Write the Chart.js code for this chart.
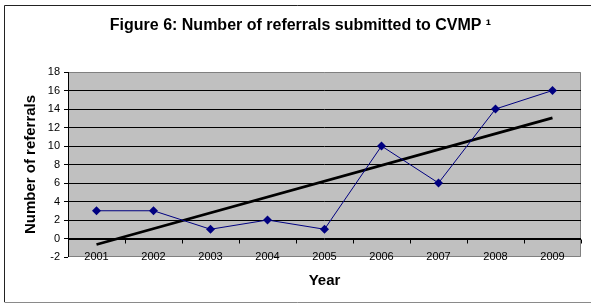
<!DOCTYPE html>
<html>
<head>
<meta charset="utf-8">
<script src="https://cdn.jsdelivr.net/npm/chart.js@4/dist/chart.umd.min.js"></script>
<style>
  html, body { margin: 0; padding: 0; background: #fff; }
  #wrap { width: 591px; height: 305px; }
</style>
</head>
<body>
<div id="wrap"><canvas id="c" width="591" height="305"></canvas></div>
<script>
// ---- data ----
const years = ["2001", "2002", "2003", "2004", "2005", "2006", "2007", "2008", "2009"];
const referrals = [3, 3, 1, 2, 1, 10, 6, 14, 16];
const trendLine = [-0.65, null, null, null, null, null, null, null, 13.05];
const yTicks = [-2, 0, 2, 4, 6, 8, 10, 12, 14, 16, 18];
const titleText = "Figure 6: Number of referrals submitted to CVMP \u00B9";
const yTitle = "Number of referrals";
const xTitle = "Year";

const FONT = "'Liberation Sans', Arial, sans-serif";

const decor = {
  id: 'decor',
  beforeDraw(chart) {
    const ctx = chart.ctx;
    const a = chart.chartArea;
    ctx.save();
    ctx.fillStyle = '#fff';
    ctx.fillRect(0, 0, chart.width, chart.height);
    // outer frame
    ctx.lineWidth = 1;
    ctx.strokeStyle = '#222';
    ctx.beginPath();
    ctx.moveTo(4.5, 302); ctx.lineTo(4.5, 5.5); ctx.lineTo(chart.width, 5.5);
    ctx.stroke();
    ctx.strokeStyle = '#8a8a8a';
    ctx.beginPath();
    ctx.moveTo(4.5, 302.5); ctx.lineTo(chart.width, 302.5);
    ctx.stroke();
    // plot background
    ctx.fillStyle = '#c0c0c0';
    ctx.fillRect(a.left, a.top, a.right - a.left, a.bottom - a.top);
    // plot border (grey) top/right/bottom
    ctx.strokeStyle = '#808080';
    ctx.beginPath();
    ctx.moveTo(a.left, a.top + 0.5); ctx.lineTo(a.right - 0.5, a.top + 0.5);
    ctx.lineTo(a.right - 0.5, a.bottom - 0.5); ctx.lineTo(a.left, a.bottom - 0.5);
    ctx.stroke();
    ctx.restore();
  },
  beforeDatasetsDraw(chart) {
    const ctx = chart.ctx;
    const a = chart.chartArea;
    const xs = chart.scales.x, ys = chart.scales.y;
    ctx.save();
    ctx.lineWidth = 1;
    // category axis at y = 0 with tick marks between categories
    const y0 = Math.round(ys.getPixelForValue(0)) + 0.5;
    ctx.strokeStyle = '#000';
    ctx.beginPath();
    ctx.moveTo(a.left, y0); ctx.lineTo(a.right, y0);
    const n = years.length;
    for (let i = 0; i <= n; i++) {
      let x;
      if (i === 0) x = a.left;
      else if (i === n) x = a.right;
      else x = (xs.getPixelForValue(i - 1) + xs.getPixelForValue(i)) / 2;
      x = Math.round(x) + 0.5;
      ctx.moveTo(x, y0); ctx.lineTo(x, y0 + 4);
    }
    ctx.stroke();
    // y axis line
    ctx.beginPath();
    ctx.moveTo(Math.round(a.left) + 0.5, a.top); ctx.lineTo(Math.round(a.left) + 0.5, a.bottom);
    ctx.stroke();
    ctx.restore();
  }
};

new Chart(document.getElementById('c'), {
  type: 'line',
  data: {
    labels: years,
    datasets: [
      {
        label: 'Referrals',
        data: referrals,
        borderColor: '#000080',
        backgroundColor: '#000080',
        borderWidth: 1,
        pointStyle: 'rectRot',
        pointRadius: 4.5,
        pointBorderWidth: 0,
        pointBackgroundColor: '#000080',
        tension: 0,
        order: 1
      },
      {
        label: 'Trend',
        data: trendLine,
        borderColor: '#000',
        borderWidth: 2.8,
        pointRadius: 0,
        spanGaps: true,
        tension: 0,
        order: 2
      }
    ]
  },
  plugins: [decor],
  options: {
    responsive: false,
    animation: false,
    devicePixelRatio: 1,
    layout: { padding: { left: 20, right: 10, top: 0, bottom: 0 } },
    plugins: {
      legend: { display: false },
      tooltip: { enabled: false },
      title: {
        display: true,
        text: titleText,
        color: '#000',
        font: { family: FONT, size: 16, weight: 'bold' },
        padding: { top: 16.4, bottom: 36.4 }
      }
    },
    scales: {
      x: {
        type: 'category',
        offset: true,
        border: { display: false },
        grid: { display: false, drawTicks: false },
        ticks: {
          color: '#000',
          font: { family: FONT, size: 11 },
          padding: -6.2,
          maxRotation: 0,
          autoSkip: false
        },
        title: {
          display: true,
          text: xTitle,
          color: '#000',
          font: { family: FONT, size: 15, weight: 'bold' },
          padding: { top: 0, bottom: 15.5 }
        },
        afterFit(scale) {
          scale.height = 48;
          // let the category labels overlap the plot's bottom edge, as in the reference
          scale._computeLabelArea = () => undefined;
        }
      },
      y: {
        min: -2,
        max: 18,
        afterBuildTicks(scale) { scale.ticks = yTicks.map(v => ({ value: v })); },
        border: { display: false },
        grid: {
          color: (c) => (c.tick && (c.tick.value === 18 || c.tick.value === -2)) ? 'rgba(0,0,0,0)' : '#000',
          lineWidth: 1,
          drawTicks: true,
          tickLength: 4,
          tickColor: '#000'
        },
        ticks: {
          color: '#000',
          font: { family: FONT, size: 11 },
          padding: 4
        },
        title: {
          display: true,
          text: yTitle,
          color: '#000',
          font: { family: FONT, size: 15, weight: 'bold' },
          padding: { top: 2, bottom: 0 }
        },
        afterFit(scale) { scale.width = 48; }
      }
    }
  }
});
</script>
</body>
</html>
